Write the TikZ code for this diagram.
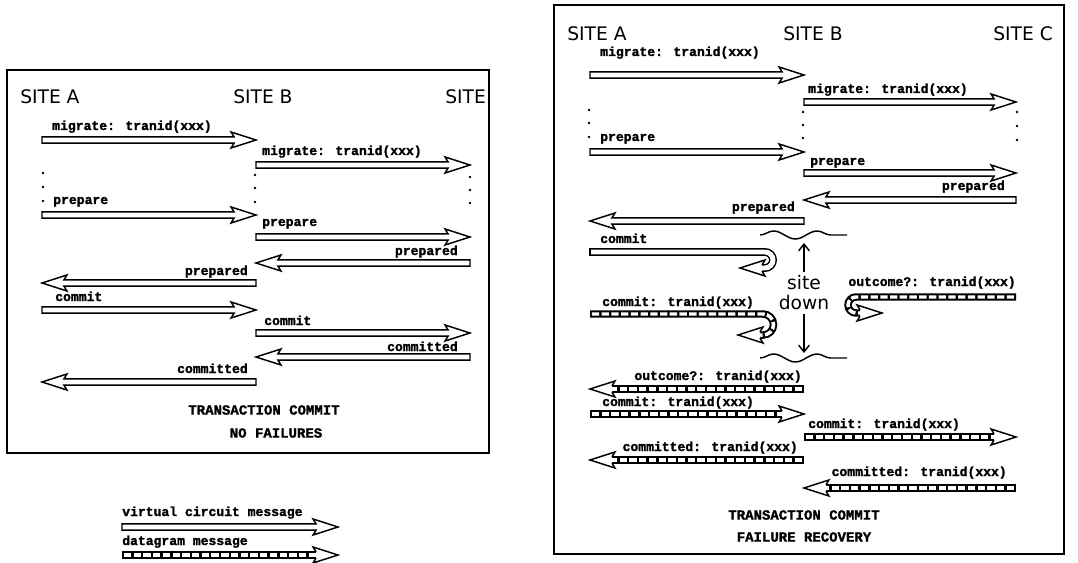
\documentclass[tikz,border=0pt]{standalone}
\usepackage{fontspec}
\newfontfamily\msgfont{Liberation Mono}[BoldFeatures={FakeBold=1.6}]
\newfontfamily\sitefont{DejaVu Sans}
\usetikzlibrary{calc,decorations.pathmorphing,arrows.meta}

% arrow geometry: shaft half width, head half width, head length, barb sweep
\def\sw{2.4pt}\def\hw{6pt}\def\hl{16.5pt}\def\hb{2.2pt}

\tikzset{
  vcline/.style={draw=black, line width=1.1pt, fill=white, line join=miter},
  vcdouble/.style={line width=1.1pt, double=white, double distance=3.7pt},
  dgshaft/.style={line width=5.6pt, black},
  dgdash/.style={line width=2.6pt, white, dash pattern=on 5.5pt off 1.8pt, shorten <=1.4pt},
  lbl/.style={font=\msgfont\bfseries\fontsize{9.8}{10}\selectfont, inner sep=0pt},
  ttl/.style={font=\msgfont\bfseries\fontsize{10.5}{11}\selectfont, inner sep=0pt},
  sitelbl/.style={font=\sitefont\fontsize{14}{15}\selectfont, inner sep=0pt, anchor=west},
  panel/.style={draw, line width=1.3pt},
  wave/.style={line width=1.1pt, decorate, decoration={snake, amplitude=3pt, segment length=32.6pt}},
  sdarrow/.style={line width=1.1pt, -{Straight Barb[length=5pt,width=8pt]}},
}

% virtual circuit message: hollow fat arrow from #1 to #2
\newcommand\vcmsg[2]{%
  \filldraw[vcline] let \p1=(#1), \p2=(#2), \n1={sign(\x2-\x1)} in
    (\x1,{\y1+\sw}) -- ({\x2-(\n1)*\hl},{\y1+\sw}) -- ({\x2-(\n1)*(\hl+\hb)},{\y1+\hw})
    -- (\x2,\y1) -- ({\x2-(\n1)*(\hl+\hb)},{\y1-\hw}) -- ({\x2-(\n1)*\hl},{\y1-\sw})
    -- (\x1,{\y1-\sw}) -- cycle;}

% hollow head, open at its base #1, pointing at #2
\newcommand\vchead[2]{%
  \filldraw[vcline] let \p1=(#1), \p2=(#2), \n1={sign(\x2-\x1)} in
    (\x1,{\y1+\sw}) -- ({\x1-(\n1)*\hb},{\y1+\hw}) -- (\x2,\y1)
    -- ({\x1-(\n1)*\hb},{\y1-\hw}) -- (\x1,{\y1-\sw});}

% datagram message: hatched shaft with a hollow head
\newcommand\dgmsg[2]{%
  \path let \p1=(#1), \p2=(#2), \n1={sign(\x2-\x1)} in ({\x2-(\n1)*\hl},\y1) coordinate (dgbase);
  \draw[dgshaft] (#1) -- (dgbase);
  \draw[dgdash] (#1) -- (dgbase);
  \vchead{dgbase}{#2}}

\begin{document}
\begin{tikzpicture}[x=0.75pt,y=-0.75pt]
\useasboundingbox (0,0) rectangle (1078,563);

% ---------------- left panel: no failures ----------------
\draw[panel] (7,70) rectangle (489,453);
\coordinate (lA) at (42,0);
\coordinate (lB) at (256,0);
\coordinate (lC) at (470,0);
\foreach \n/\y in {m1/140,m2/165,m3/215,m4/237,m5/263,m6/283,m7/310,m8/333,m9/357,m10/382}
  \coordinate (\n) at (0,\y);

\node[sitelbl] (sA1) at (20,97) {SITE A};
\node[sitelbl] (sB1) at (233,97) {SITE B};
\node[sitelbl] (sC1) at (445,97) {SITE};

\node[lbl, anchor=base west] (t1) at (52,130) {migrate: tranid(xxx)};
\vcmsg{lA|-m1}{lB|-m1}
\node[lbl, anchor=base west] (t2) at (262,155) {migrate: tranid(xxx)};
\vcmsg{lB|-m2}{lC|-m2}

\foreach \x/\y in {43/173,43/187,43/201,255/175,255/188,255/202,470/177,470/190,470/203}
  \fill (\x,\y) circle[radius=1pt];

\node[lbl, anchor=base west] (t3) at (53,204) {prepare};
\vcmsg{lA|-m3}{lB|-m3}
\node[lbl, anchor=base west] (t4) at (262,226) {prepare};
\vcmsg{lB|-m4}{lC|-m4}
\node[lbl, anchor=base east] (t5) at (458,255) {prepared};
\vcmsg{lC|-m5}{lB|-m5}
\node[lbl, anchor=base east] (t6) at (248,275) {prepared};
\vcmsg{lB|-m6}{lA|-m6}
\node[lbl, anchor=base west] (t7) at (55,301) {commit};
\vcmsg{lA|-m7}{lB|-m7}
\node[lbl, anchor=base west] (t8) at (264,325) {commit};
\vcmsg{lB|-m8}{lC|-m8}
\node[lbl, anchor=base east] (t9) at (458,351) {committed};
\vcmsg{lC|-m9}{lB|-m9}
\node[lbl, anchor=base east] (t10) at (248,373) {committed};
\vcmsg{lB|-m10}{lA|-m10}

\node[ttl] (ttlL1) at (264,410) {TRANSACTION COMMIT};
\node[ttl] (ttlL2) at (276,433) {NO FAILURES};

% ---------------- legend ----------------
\coordinate (gL) at (122,0);
\coordinate (gR) at (338,0);
\coordinate (g1) at (0,527);
\coordinate (g2) at (0,555);
\node[lbl, anchor=base west] (lg1) at (122,516) {virtual circuit message};
\vcmsg{gL|-g1}{gR|-g1}
\node[lbl, anchor=base west] (lg2) at (122,545) {datagram message};
\dgmsg{gL|-g2}{gR|-g2}

% ---------------- right panel: failure recovery ----------------
\draw[panel] (554,5) rectangle (1064,554);
\coordinate (rA) at (590,0);
\coordinate (rB) at (804,0);
\coordinate (rC) at (1016,0);
\foreach \n/\y in {n1/75,n2/102,n3/152,n4/173,n5/200,n6/221,n7/252,n8/314,n9/297,n10/389,n11/414,n12/437,n13/460,n14/488}
  \coordinate (\n) at (0,\y);

\node[sitelbl] (sA2) at (567,34) {SITE A};
\node[sitelbl] (sB2) at (783,34) {SITE B};
\node[sitelbl] (sC2) at (993,34) {SITE C};

\node[lbl, anchor=base west] (u1) at (600,56) {migrate: tranid(xxx)};
\vcmsg{rA|-n1}{rB|-n1}
\node[lbl, anchor=base west] (u2) at (808,93) {migrate: tranid(xxx)};
\vcmsg{rB|-n2}{rC|-n2}

\foreach \x/\y in {589/110,589/123,589/137,803/112,803/125,803/138,1017/112,1017/126,1017/140}
  \fill (\x,\y) circle[radius=1pt];

\node[lbl, anchor=base west] (u3) at (600,141) {prepare};
\vcmsg{rA|-n3}{rB|-n3}
\node[lbl, anchor=base west] (u4) at (810,165) {prepare};
\vcmsg{rB|-n4}{rC|-n4}
\node[lbl, anchor=base east] (u5) at (1005,190) {prepared};
\vcmsg{rC|-n5}{rB|-n5}
\node[lbl, anchor=base east] (u6) at (795,211) {prepared};
\vcmsg{rB|-n6}{rA|-n6}

% commit bounced back while site B is down
\node[lbl, anchor=base west] (u7) at (600,243) {commit};
\coordinate (cu1) at (765,252);
\coordinate (hb1) at (762,268);
\coordinate (ht1) at (740,268);
\draw[vcdouble] (rA|-n7) -- (cu1) arc[start angle=90, end angle=-90, radius=6pt] -- (hb1);
\draw[line width=1.1pt] ([yshift=2.95pt]rA|-n7) -- ([yshift=-2.95pt]rA|-n7);
\vchead{hb1}{ht1}

\node[lbl, anchor=base west] (u8) at (602,306) {commit: tranid(xxx)};
\coordinate (cu2) at (763,314);
\coordinate (hb2) at (760,335);
\coordinate (ht2) at (738,335);
\draw[dgshaft] (rA|-n8) -- (cu2) arc[start angle=90, end angle=-90, radius=7.9pt] -- (hb2);
\draw[dgdash] (rA|-n8) -- (cu2) arc[start angle=90, end angle=-90, radius=7.9pt] -- (hb2);
\vchead{hb2}{ht2}

\node[lbl, anchor=base east] (u9) at (1016,286) {outcome?: tranid(xxx)};
\coordinate (cu3) at (856,297);
\coordinate (hb3) at (860,313);
\coordinate (ht3) at (882,313);
\draw[dgshaft] (rC|-n9) -- (cu3) arc[start angle=90, end angle=270, radius=6pt] -- (hb3);
\draw[dgdash] (rC|-n9) -- (cu3) arc[start angle=90, end angle=270, radius=6pt] -- (hb3);
\vchead{hb3}{ht3}

% site B down interval
\coordinate (wt1) at (760,235);
\coordinate (wt2) at (847,235);
\coordinate (wb1) at (760,358);
\coordinate (wb2) at (847,358);
\draw[wave] (wt1) -- (wt2);
\draw[wave] (wb1) -- (wb2);
\node[font=\sitefont\fontsize{14}{15}\selectfont, align=center, inner xsep=0pt, inner ysep=2.5pt] (sd) at (804,293) {site\\down};
\coordinate (uptip) at (804,243);
\coordinate (dntip) at (804,353);
\draw[sdarrow] (sd.north) -- (uptip);
\draw[sdarrow] (sd.south) -- (dntip);

% recovery
\node[lbl, anchor=base east] (u10) at (802,380) {outcome?: tranid(xxx)};
\dgmsg{rB|-n10}{rA|-n10}
\node[lbl, anchor=base west] (u11) at (602,406) {commit: tranid(xxx)};
\dgmsg{rA|-n11}{rB|-n11}
\node[lbl, anchor=base west] (u12) at (808,428) {commit: tranid(xxx)};
\dgmsg{rB|-n12}{rC|-n12}
\node[lbl, anchor=base east] (u13) at (798,451) {committed: tranid(xxx)};
\dgmsg{rB|-n13}{rA|-n13}
\node[lbl, anchor=base east] (u14) at (1007,476) {committed: tranid(xxx)};
\dgmsg{rC|-n14}{rB|-n14}

\node[ttl] (ttlR1) at (804,515) {TRANSACTION COMMIT};
\node[ttl] (ttlR2) at (804,537) {FAILURE RECOVERY};
\end{tikzpicture}
\end{document}
